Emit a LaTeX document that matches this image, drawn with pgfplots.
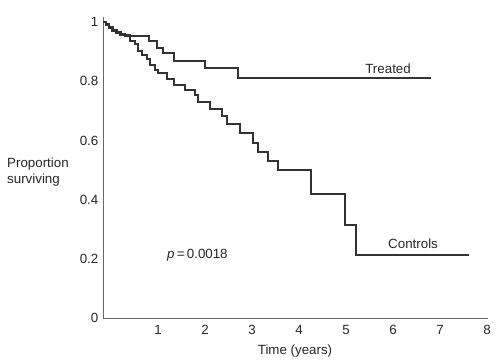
\documentclass[border=0pt]{standalone}
\usepackage{fontspec}
\setmainfont{Liberation Sans}
\usepackage{pgfplots}
\pgfplotsset{compat=1.18}
\begin{document}
\fontsize{10}{12}\selectfont
\begin{tikzpicture}
\begin{axis}[
  name=ax,
  scale only axis,
  width=288.75pt, height=225.75pt,
  xmin=-0.17, xmax=8.02, ymin=0, ymax=1.017,
  axis lines=left,
  axis line style={-, draw=black!60, line width=0.6pt},
  major tick length=0pt,
  xtick={1,2,3,4,5,6,7,8},
  xticklabels={1,2,3,4,5,6,7,8},
  ytick={0,0.2,0.4,0.6,0.8,1},
  yticklabels={0,0.2,0.4,0.6,0.8,1},
  /pgf/number format/assume math mode=true,
  tick label style={font=\fontsize{10}{12}\selectfont, text=black!85},
  xticklabel style={yshift=-2pt},
  clip=false,
]
\addplot[const plot, draw=black!80, line width=1.05pt] coordinates {
(-0.170,1.000) (-0.106,0.993) (-0.043,0.983) (0.043,0.973) (0.128,0.966)
(0.213,0.959) (0.298,0.953) (0.809,0.936) (0.979,0.912) (1.106,0.895)
(1.340,0.868) (2.000,0.845) (2.702,0.811) (6.809,0.811)
};
\addplot[const plot, draw=black!80, line width=1.05pt] coordinates {
(-0.170,1.000) (-0.106,0.990) (-0.043,0.980) (0.021,0.970) (0.106,0.963)
(0.191,0.956) (0.404,0.936) (0.511,0.926) (0.574,0.902) (0.660,0.889)
(0.766,0.875) (0.830,0.855) (0.936,0.838) (1.000,0.828) (1.191,0.807)
(1.340,0.787) (1.574,0.770) (1.787,0.753) (1.851,0.730) (2.106,0.706)
(2.362,0.682) (2.468,0.655) (2.745,0.625) (3.021,0.591) (3.128,0.561)
(3.340,0.530) (3.553,0.500) (4.255,0.419) (4.979,0.314) (5.213,0.213)
(7.617,0.213)
};
\node[text=black!85, inner sep=0pt] at (axis cs:5.894,0.841) {Treated};
\node[text=black!85, inner sep=0pt] at (axis cs:6.426,0.250) {Controls};
\node[text=black!85, inner sep=0pt, anchor=west] at (axis cs:1.191,0.213) {\textit{p}\,=\,0.0018};
\node[text=black!85, inner sep=0pt, anchor=west, align=left] at (axis cs:-2.213,0.493) {Proportion\\surviving};
\node[text=black!85, inner sep=0pt] at (axis cs:3.915,-0.112) {Time (years)};
\end{axis}
\path (ax.south west) ++(-77.25pt,-34.5pt) coordinate (bbA);
\path (ax.north east) ++(9pt,12.75pt) coordinate (bbB);
\path (bbA) rectangle (bbB);
\end{tikzpicture}
\end{document}
